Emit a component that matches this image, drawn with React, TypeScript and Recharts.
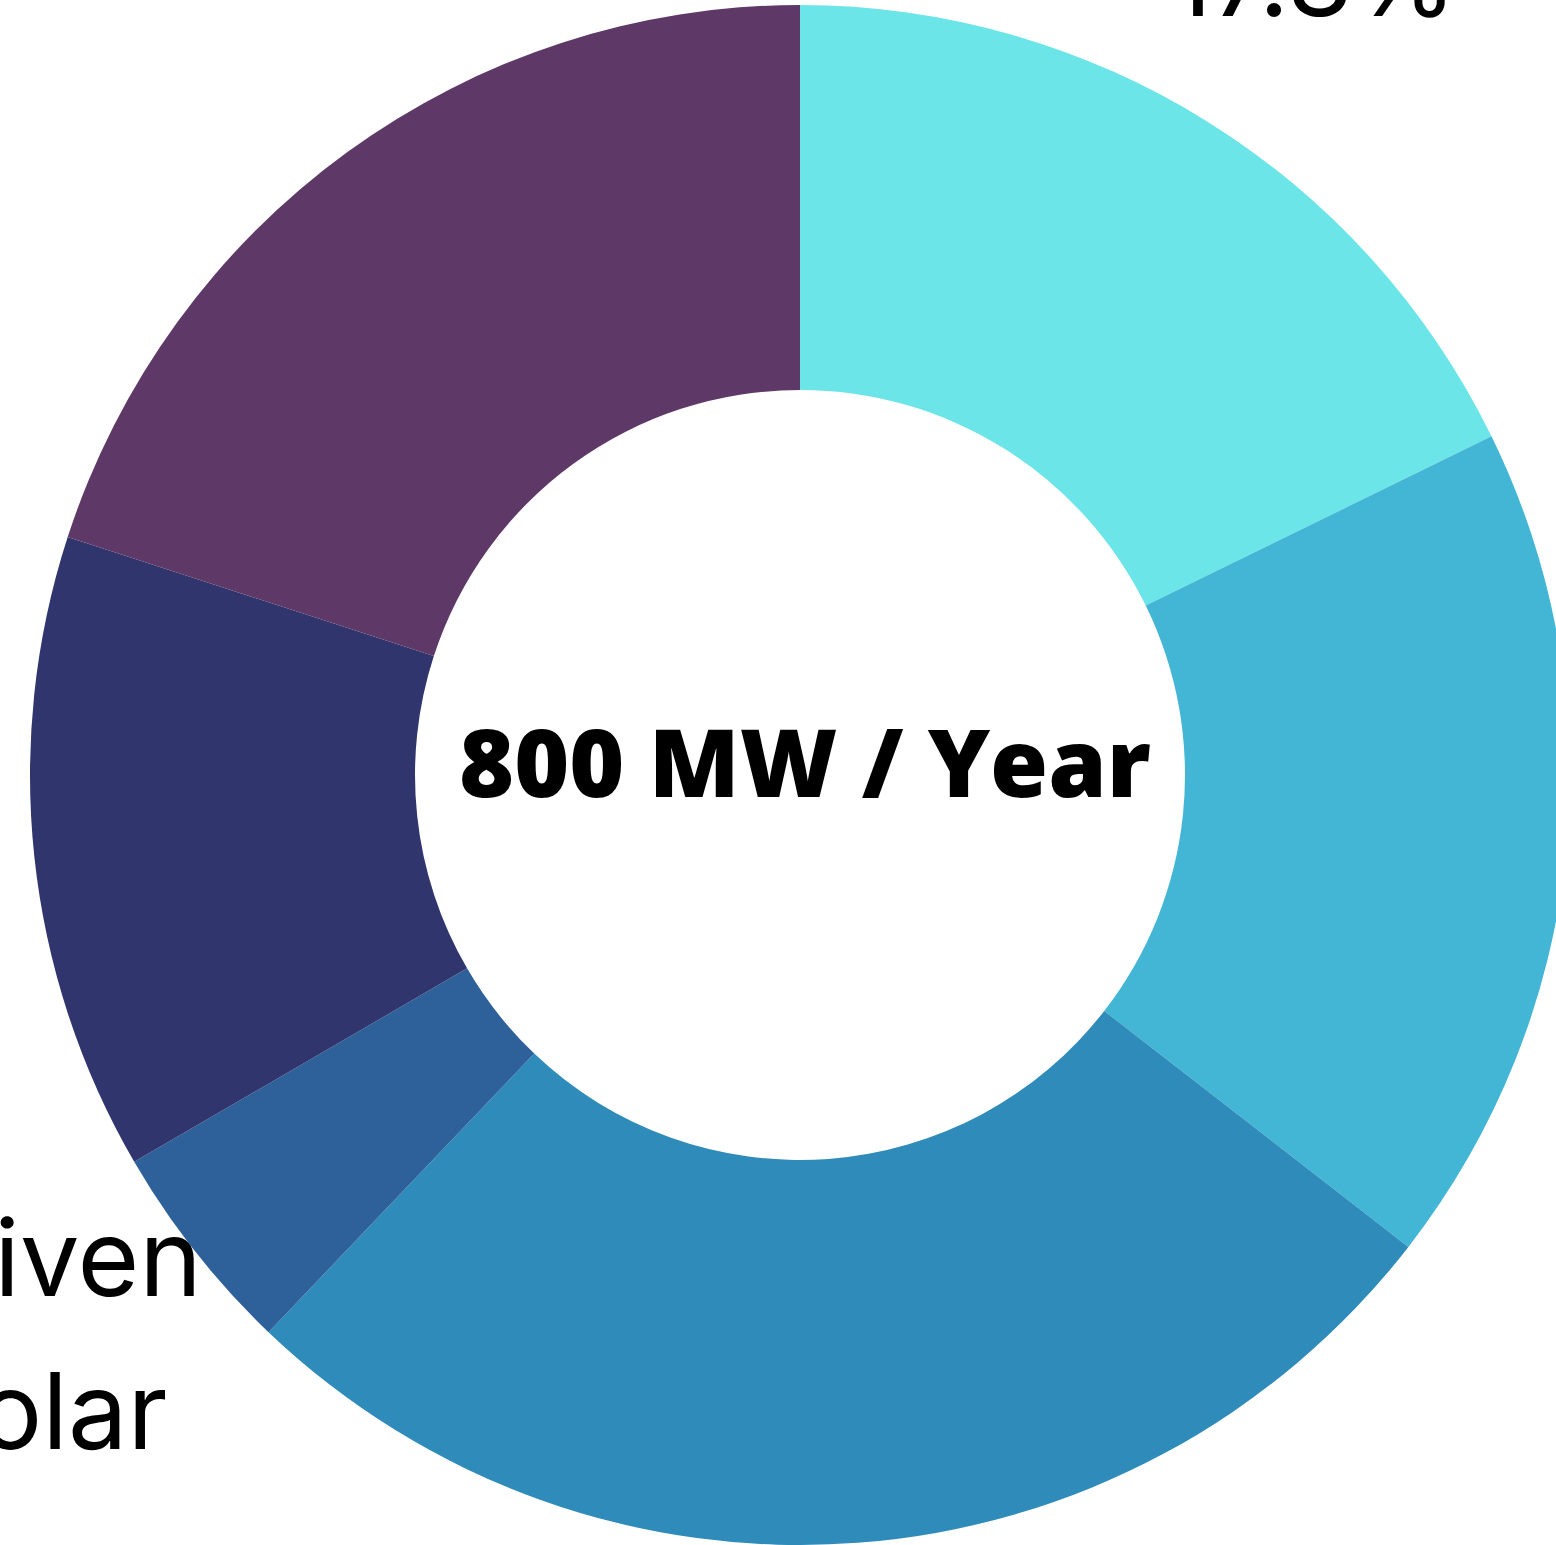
import { PieChart, Pie, Cell } from 'recharts'

// slices run clockwise from 12 o'clock
const categories = ['Residential', 'Rooftop', 'Utility', 'Driven Solar', 'Hybrid', 'Commercial']
const capacityMW = [142, 142, 213, 36, 107, 160]
const sliceColors = ['#6ce5e8', '#43b5d5', '#2e8bba', '#2e6199', '#31356d', '#5e3866']
const labelShown = [true, false, false, true, false, false]
const centerTitle = '800 MW / Year'

const total = capacityMW.reduce((a, b) => a + b, 0)
const data = categories.map((name, i) => ({
  name,
  value: capacityMW[i],
  pct: (Math.round((capacityMW[i] * 1000) / total) / 10).toFixed(1) + '%',
}))

const RADIAN = Math.PI / 180
const LINE_HEIGHT = 153
const PCT_GAP = 60

function SliceLabel(props: any) {
  const { cx, cy, midAngle, outerRadius, index } = props
  if (!labelShown[index]) return null
  const r = outerRadius + 199
  const x = cx + r * Math.cos(-midAngle * RADIAN)
  const y = cy + r * Math.sin(-midAngle * RADIAN)
  const words = categories[index].split(' ')
  // name lines, then a small gap, then the share
  const ys = words.map((_, i) => i * LINE_HEIGHT)
  ys.push((words.length - 1) * LINE_HEIGHT + LINE_HEIGHT + PCT_GAP)
  const lines = [...words, data[index].pct]
  // upper labels grow upward, lower labels grow downward
  const first = y < cy ? y + 63 - ys[ys.length - 1] : y - 79
  return (
    <text x={x} y={first} textAnchor="middle" fontFamily="Inter, sans-serif" fontSize={106} fill="#000">
      {lines.map((t, i) => (
        <tspan key={i} x={x} y={first + ys[i]}>
          {t}
        </tspan>
      ))}
    </text>
  )
}

export default function App() {
  return (
    <div style={{ position: 'fixed', left: 0, top: 0, width: 1556, height: 1545, background: '#fff' }}>
      <PieChart width={1556} height={1545} margin={{ top: 0, right: 0, bottom: 0, left: 0 }}>
        <Pie
          data={data}
          dataKey="value"
          nameKey="name"
          cx={800}
          cy={775}
          innerRadius={385}
          outerRadius={770}
          startAngle={90}
          endAngle={-270}
          stroke="none"
          label={SliceLabel}
          labelLine={false}
          isAnimationActive={false}
        >
          {data.map((d, i) => (
            <Cell key={d.name} fill={sliceColors[i]} />
          ))}
        </Pie>
      </PieChart>
      <svg width={1556} height={1545} style={{ position: 'absolute', left: 0, top: 0, pointerEvents: 'none' }}>
        <text
          x={805}
          y={797}
          textAnchor="middle"
          fontFamily="'Open Sans', sans-serif"
          fontWeight={800}
          fontSize={94}
          fill="#000"
        >
          {centerTitle}
        </text>
      </svg>
    </div>
  )
}
